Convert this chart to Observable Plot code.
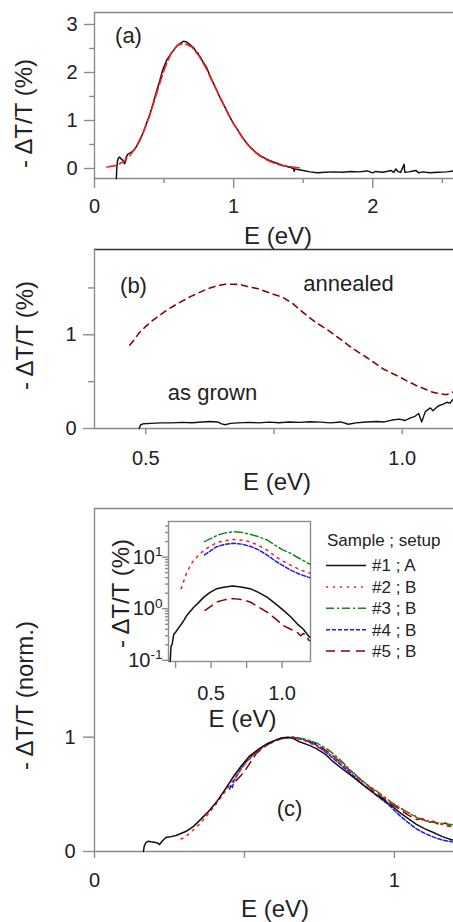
<!DOCTYPE html>
<html><head><meta charset="utf-8">
<script src="https://cdn.jsdelivr.net/npm/d3@7"></script>
<script src="https://cdn.jsdelivr.net/npm/@observablehq/plot@0.6"></script>
<style>
html,body{margin:0;padding:0;background:#fff;}
#root{position:relative;width:453px;height:922px;overflow:hidden;font-family:"Liberation Sans",Arial,sans-serif;}
#root svg{position:absolute;}
</style></head><body><div id="root"></div>
<script>
// ---------- DATA ----------
// Panel (a): measured spectrum [E (eV), -dT/T (%)]
const aMeasured = [[0.157,-0.21],[0.160,0.0],[0.165,0.15],[0.172,0.22],[0.18,0.24],[0.19,0.2],[0.205,0.17],[0.215,0.1],[0.22,0.12],[0.23,0.25],[0.24,0.3],[0.26,0.33],[0.28,0.37],[0.30,0.45],[0.325,0.58],[0.35,0.75],[0.373,0.93],[0.40,1.15],[0.421,1.35],[0.445,1.6],[0.469,1.83],[0.49,2.05],[0.517,2.245],[0.54,2.35],[0.565,2.45],[0.59,2.55],[0.614,2.6],[0.638,2.65],[0.66,2.64],[0.685,2.58],[0.71,2.52],[0.735,2.42],[0.745,2.40],[0.75,2.36],[0.758,2.33],[0.78,2.22],[0.806,2.1],[0.83,1.93],[0.854,1.78],[0.88,1.62],[0.903,1.47],[0.93,1.32],[0.951,1.2],[0.975,1.06],[1.0,0.93],[1.025,0.82],[1.047,0.72],[1.08,0.58],[1.12,0.44],[1.15,0.36],[1.19,0.27],[1.24,0.19],[1.29,0.13],[1.35,0.07],[1.41,0.02],[1.43,0.0],[1.435,-0.06],[1.44,-0.01],[1.48,-0.03],[1.55,-0.07],[1.6,-0.09],[1.66,-0.08],[1.72,-0.07],[1.78,-0.08],[1.84,-0.06],[1.9,-0.07],[1.96,-0.05],[2.0,-0.09],[2.02,-0.06],[2.07,-0.08],[2.1,-0.06],[2.13,-0.04],[2.15,-0.08],[2.166,-0.01],[2.18,-0.06],[2.2,-0.08],[2.225,0.09],[2.23,-0.08],[2.26,-0.07],[2.29,-0.05],[2.31,-0.04],[2.33,-0.09],[2.36,-0.07],[2.41,-0.09],[2.47,-0.08],[2.53,-0.07],[2.58,-0.05]];
// Panel (a): fit (red dashed)
const aFit = [[0.09,0.03],[0.15,0.06],[0.2,0.13],[0.25,0.25],[0.3,0.45],[0.35,0.75],[0.4,1.13],[0.45,1.6],[0.5,2.05],[0.55,2.4],[0.6,2.58],[0.65,2.6],[0.7,2.53],[0.75,2.35],[0.8,2.1],[0.85,1.8],[0.9,1.5],[0.95,1.2],[1.0,0.93],[1.05,0.7],[1.1,0.5],[1.15,0.35],[1.2,0.24],[1.25,0.16],[1.3,0.1],[1.35,0.06],[1.4,0.04],[1.45,0.02],[1.49,0.01]];
// Panel (b)
const bAnnealed = [[0.469,0.89],[0.475,0.93],[0.487,1.02],[0.50,1.09],[0.513,1.15],[0.525,1.2],[0.539,1.255],[0.555,1.31],[0.572,1.362],[0.588,1.41],[0.604,1.45],[0.62,1.49],[0.637,1.52],[0.655,1.54],[0.67,1.54],[0.685,1.535],[0.702,1.51],[0.72,1.49],[0.735,1.46],[0.75,1.43],[0.767,1.40],[0.785,1.34],[0.80,1.27],[0.815,1.2],[0.832,1.13],[0.85,1.07],[0.865,1.01],[0.88,0.95],[0.897,0.88],[0.913,0.82],[0.93,0.76],[0.946,0.70],[0.963,0.635],[0.98,0.59],[0.995,0.55],[1.01,0.505],[1.028,0.457],[1.045,0.42],[1.06,0.386],[1.075,0.37],[1.086,0.36],[1.093,0.375],[1.099,0.39]];
const bAsGrown = [[0.487,0.0],[0.49,0.04],[0.495,0.05],[0.51,0.055],[0.53,0.06],[0.55,0.06],[0.57,0.065],[0.59,0.062],[0.61,0.07],[0.625,0.075],[0.64,0.07],[0.648,0.05],[0.655,0.04],[0.665,0.055],[0.68,0.06],[0.70,0.065],[0.72,0.06],[0.74,0.068],[0.76,0.062],[0.78,0.07],[0.80,0.065],[0.82,0.072],[0.84,0.068],[0.86,0.06],[0.88,0.07],[0.895,0.045],[0.91,0.06],[0.93,0.07],[0.95,0.075],[0.965,0.07],[0.98,0.09],[0.995,0.1],[1.005,0.085],[1.015,0.11],[1.025,0.13],[1.032,0.16],[1.038,0.07],[1.045,0.18],[1.055,0.22],[1.06,0.19],[1.07,0.24],[1.08,0.26],[1.087,0.28],[1.093,0.27],[1.099,0.31]];
// Inset (log scale, %)
const inset1 = [[0.212,0.096],[0.214,0.12],[0.218,0.19],[0.225,0.2],[0.237,0.32],[0.25,0.35],[0.27,0.42],[0.29,0.5],[0.307,0.59],[0.33,0.75],[0.355,0.9],[0.378,1.07],[0.41,1.3],[0.449,1.68],[0.49,2.05],[0.54,2.45],[0.59,2.62],[0.65,2.76],[0.71,2.65],[0.775,2.45],[0.83,2.1],[0.894,1.68],[0.95,1.27],[1.01,0.93],[1.06,0.7],[1.106,0.51],[1.15,0.4],[1.176,0.32],[1.195,0.28]];
const inset2 = [[0.289,2.45],[0.33,5.2],[0.378,8.8],[0.437,12.7],[0.49,16],[0.54,19],[0.6,21],[0.66,22],[0.72,21.2],[0.775,19.9],[0.83,17],[0.894,13.7],[0.95,10.5],[1.0,8.5],[1.06,7],[1.12,5.8],[1.195,4.9]];
const inset3 = [[0.454,19.9],[0.5,23],[0.55,27],[0.6,29.5],[0.66,31],[0.72,30],[0.78,27.5],[0.83,25],[0.894,21.5],[0.95,17],[1.0,14],[1.06,11.8],[1.12,9.5],[1.195,7.3]];
const inset4 = [[0.454,11],[0.5,13.5],[0.54,15.9],[0.6,17.8],[0.66,18.5],[0.72,17.8],[0.78,16],[0.83,14],[0.894,11],[0.95,8.5],[1.0,7],[1.06,5.6],[1.12,4.7],[1.195,4.0]];
const inset5 = [[0.458,0.93],[0.5,1.12],[0.54,1.35],[0.6,1.5],[0.66,1.57],[0.72,1.5],[0.775,1.35],[0.83,1.1],[0.894,0.86],[0.95,0.65],[1.01,0.47],[1.06,0.4],[1.106,0.35],[1.13,0.3],[1.15,0.33],[1.176,0.3],[1.185,0.25],[1.195,0.24]];
// Panel (c): normalized spectra
const norm1 = [[0.163,0.0],[0.166,0.05],[0.172,0.08],[0.18,0.09],[0.188,0.085],[0.2,0.08],[0.21,0.075],[0.217,0.06],[0.225,0.09],[0.239,0.125],[0.255,0.13],[0.272,0.14],[0.29,0.16],[0.306,0.177],[0.33,0.22],[0.35,0.27],[0.38,0.35],[0.406,0.43],[0.435,0.54],[0.461,0.646],[0.49,0.75],[0.517,0.835],[0.545,0.89],[0.572,0.937],[0.6,0.97],[0.628,0.995],[0.645,1.0],[0.665,0.985],[0.683,0.96],[0.71,0.935],[0.74,0.9],[0.77,0.85],[0.794,0.79],[0.82,0.735],[0.85,0.676],[0.88,0.615],[0.906,0.56],[0.935,0.505],[0.961,0.458],[0.99,0.4],[1.017,0.342],[1.045,0.29],[1.072,0.24],[1.1,0.2],[1.128,0.168],[1.16,0.13],[1.193,0.10]];
const norm2 = [[0.289,0.11],[0.3,0.12],[0.33,0.19],[0.35,0.24],[0.38,0.33],[0.41,0.43],[0.44,0.54],[0.47,0.65],[0.5,0.76],[0.54,0.87],[0.58,0.94],[0.62,0.985],[0.66,1.0],[0.7,0.97],[0.74,0.92],[0.78,0.86],[0.82,0.78],[0.86,0.69],[0.9,0.6],[0.94,0.52],[0.98,0.44],[1.02,0.38],[1.06,0.32],[1.1,0.275],[1.14,0.25],[1.193,0.21]];
const norm3 = [[0.461,0.646],[0.5,0.78],[0.54,0.88],[0.58,0.95],[0.62,0.99],[0.66,1.0],[0.7,0.985],[0.74,0.95],[0.78,0.89],[0.82,0.8],[0.85,0.72],[0.88,0.65],[0.906,0.59],[0.935,0.54],[0.961,0.487],[0.99,0.43],[1.017,0.385],[1.045,0.34],[1.072,0.3],[1.1,0.27],[1.128,0.255],[1.16,0.245],[1.193,0.235]];
const norm4 = [[0.45,0.545],[0.455,0.58],[0.46,0.56],[0.465,0.62],[0.5,0.77],[0.54,0.875],[0.58,0.945],[0.62,0.99],[0.66,1.0],[0.7,0.975],[0.74,0.93],[0.78,0.85],[0.82,0.76],[0.86,0.67],[0.9,0.575],[0.94,0.49],[0.98,0.41],[1.017,0.316],[1.045,0.255],[1.072,0.2],[1.1,0.16],[1.128,0.128],[1.16,0.1],[1.193,0.084]];
const norm5 = [[0.472,0.62],[0.49,0.67],[0.505,0.72],[0.54,0.86],[0.58,0.94],[0.62,0.985],[0.66,1.0],[0.7,0.98],[0.74,0.94],[0.78,0.87],[0.82,0.78],[0.86,0.69],[0.9,0.6],[0.94,0.51],[0.98,0.43],[1.017,0.37],[1.045,0.32],[1.072,0.28],[1.095,0.287],[1.11,0.25],[1.13,0.265],[1.15,0.23],[1.17,0.25],[1.193,0.21]];
// Legend / tick labels
const legendTitle = "Sample ; setup";
const sampleLabels = ["#1 ; A", "#2 ; B", "#3 ; B", "#4 ; B", "#5 ; B"];
const aXTicks = [0, 1, 2], aXMinor = [0.5, 1.5, 2.5];
const aYTicks = [0, 1, 2, 3], aYMinor = [0.5, 1.5, 2.5];
const bXTicks = [0.5, 1.0], bXMinor = [0.75];
const bYTicks = [0, 1], bYMinor = [0.5, 1.5];
const cXTicks = [0, 1], cXMinor = [0.5];
const cYTicks = [0, 1];
const iXTicks = [0.5, 1.0], iXMinor = [0.25, 0.75];
const iYTicks = [0.1, 1, 10];
const iYMinor = [0.2,0.3,0.4,0.5,0.6,0.7,0.8,0.9,2,3,4,5,6,7,8,9,20,30,40];

// ---------- STYLE ----------
const FONT = "'Liberation Sans', Arial, sans-serif";
const AX = "#8c8c8c", TXT = "#222";
const seriesStyle = [
  {stroke: "#111", dash: null},
  {stroke: "#ff1a1a", dash: "2,5"},
  {stroke: "#138a13", dash: "8,3,2,3"},
  {stroke: "#1a1aff", dash: "4,2"},
  {stroke: "#8b0000", dash: "9,6"}
];
const toRows = arr => arr.map(([E, v]) => ({E, v}));
const root = document.getElementById("root");
function place(svg, left, top) { svg.style.left = left + "px"; svg.style.top = top + "px"; root.appendChild(svg); }
const baseStyle = {fontFamily: FONT, background: "transparent", color: TXT};
function ax(kind, ticks, o) {
  const f = kind === "x" ? Plot.axisX : Plot.axisY;
  return f(ticks, Object.assign({label: null, stroke: AX, strokeWidth: 1.4, fill: TXT, fontSize: 20}, o));
}
function lineMark(rows, i, sw = 1.5) {
  const s = seriesStyle[i];
  const o = {x: "E", y: "v", stroke: s.stroke, strokeWidth: sw};
  if (s.dash) o.strokeDasharray = s.dash;
  return Plot.line(rows, o);
}
const frameSide = (anchor, stroke = AX) => Plot.frame({anchor, stroke, strokeWidth: 1.4});
const label = (txt, o) => Plot.text([txt], Object.assign({textAnchor: "middle", lineAnchor: "middle", fill: TXT, fontSize: 24}, o));

// ---------- PANEL (a) ----------
const pA = Plot.plot({
  width: 453, height: 252, marginLeft: 94, marginRight: 0, marginTop: 12, marginBottom: 74,
  x: {domain: [0, 2.58]}, y: {domain: [-0.208, 3.25]},
  style: baseStyle,
  marks: [
    frameSide("top"), frameSide("left"), frameSide("bottom"),
    ax("x", aXTicks, {tickSize: 10, tickPadding: 10, tickFormat: d => String(d)}),
    ax("x", aXMinor, {tickSize: 5, tickFormat: () => ""}),
    ax("y", aYTicks, {tickSize: 10, tickPadding: 7, tickFormat: d => String(d)}),
    ax("y", aYMinor, {tickSize: 5, tickFormat: () => ""}),
    Plot.line(toRows(aMeasured), {x: "E", y: "v", stroke: "#111", strokeWidth: 1.5}),
    Plot.line(toRows(aFit), {x: "E", y: "v", stroke: "#ff1a1a", strokeWidth: 1.6, strokeDasharray: "9,4"}),
    label("E (eV)", {frameAnchor: "bottom", dx: 4, dy: 58}),
    label("- ΔT/T (%)", {frameAnchor: "left", rotate: -90, dx: -70, dy: 18}),
    label("(a)", {frameAnchor: "top-left", dx: 34, dy: 23, fontSize: 22})
  ]
});
place(pA, 0, 0);

// ---------- PANEL (b) ----------
const pB = Plot.plot({
  width: 453, height: 255, marginLeft: 94, marginRight: 0, marginTop: 4, marginBottom: 72,
  x: {domain: [0.4, 1.1]}, y: {domain: [0, 1.91]},
  style: baseStyle,
  marks: [
    frameSide("top", "#333"), frameSide("left"), frameSide("bottom"),
    ax("x", bXTicks, {tickSize: 6, tickPadding: 16, tickFormat: d3.format(".1f")}),
    ax("x", bXMinor, {tickSize: 6, tickFormat: () => ""}),
    ax("y", bYTicks, {tickSize: 11, tickPadding: 7, tickFormat: d => String(d)}),
    ax("y", bYMinor, {tickSize: 6, tickFormat: () => ""}),
    Plot.line(toRows(bAsGrown), {x: "E", y: "v", stroke: "#111", strokeWidth: 1.4}),
    Plot.line(toRows(bAnnealed), {x: "E", y: "v", stroke: "#8b0000", strokeWidth: 1.6, strokeDasharray: "6,5"}),
    label("annealed", {frameAnchor: "top-left", dx: 254, dy: 34, fontSize: 22}),
    label("as grown", {frameAnchor: "top-left", dx: 118, dy: 143, fontSize: 22}),
    label("(b)", {frameAnchor: "top-left", dx: 39, dy: 36, fontSize: 22}),
    label("E (eV)", {frameAnchor: "bottom", dx: 3, dy: 54}),
    label("- ΔT/T (%)", {frameAnchor: "left", rotate: -90, dx: -69, dy: -3.5})
  ]
});
place(pB, 0, 245);

// ---------- PANEL (c) ----------
const normSeries = [norm1, norm2, norm3, norm4, norm5];
const pC = Plot.plot({
  width: 453, height: 422, marginLeft: 94, marginRight: 0, marginTop: 8, marginBottom: 71,
  x: {domain: [0, 1.197]}, y: {domain: [0, 3.0]},
  style: baseStyle,
  marks: [
    frameSide("top"), frameSide("left"), frameSide("bottom"),
    ax("x", cXTicks, {tickSize: 7, tickPadding: 14, tickFormat: d => String(d)}),
    ax("x", cXMinor, {tickSize: 7, tickFormat: () => ""}),
    ax("y", cYTicks, {tickSize: 11, tickPadding: 8, tickFormat: d => String(d)}),
    ...[4, 3, 2, 1, 0].map(i => lineMark(toRows(normSeries[i]), i)),
    label("(c)", {frameAnchor: "top-left", dx: 195, dy: 300, fontSize: 22}),
    label("E (eV)", {frameAnchor: "bottom", dx: 1, dy: 58}),
    label("- ΔT/T (norm.)", {frameAnchor: "left", rotate: -90, dx: -69, dy: 15.5})
  ]
});
place(pC, 0, 500);

// ---------- INSET ----------
const insetSeries = [inset1, inset2, inset3, inset4, inset5];
const pI = Plot.plot({
  width: 220, height: 232, marginLeft: 68, marginRight: 10, marginTop: 11, marginBottom: 81,
  x: {domain: [0.2, 1.2]}, y: {type: "log", domain: [0.095, 49]},
  style: baseStyle,
  marks: [
    Plot.frame({stroke: AX, strokeWidth: 1.4}),
    ax("x", iXTicks, {tickSize: 7, tickPadding: 17, tickFormat: d3.format(".1f")}),
    ax("x", iXMinor, {tickSize: 7, tickFormat: () => ""}),
    ax("y", iYTicks, {tickSize: 6, tickPadding: 0, tickFormat: d => "10^" + Math.round(Math.log10(d))}),
    ax("y", iYMinor, {tickSize: 3, tickFormat: () => ""}),
    ...[4, 3, 2, 1, 0].map(i => lineMark(toRows(insetSeries[i]), i)),
    label("E (eV)", {frameAnchor: "bottom", dx: 3, dy: 58}),
    label("- ΔT/T (%)", {frameAnchor: "left", rotate: -90, dx: -47, dy: 2})
  ]
});
d3.select(pI).selectAll("text").each(function () {
  const m = /^10\^(-?\d+)$/.exec(this.textContent);
  if (m) {
    const s = d3.select(this);
    s.text(null);
    s.append("tspan").text("10");
    s.append("tspan").attr("dy", "-0.55em").attr("font-size", "0.68em").text(m[1]);
  }
});
place(pI, 100, 510);

// ---------- LEGEND ----------
const leg = d3.create("svg").attr("width", 131).attr("height", 140)
  .style("font-family", FONT).style("overflow", "visible");
const rowY = d3.scalePoint().domain(sampleLabels).range([40.5, 126]);
leg.append("text").attr("x", 5).attr("y", 15).attr("dy", "0.35em")
  .attr("font-size", 17).attr("fill", TXT).text(legendTitle);
sampleLabels.forEach((lab, i) => {
  const s = seriesStyle[i];
  const ln = leg.append("line").attr("x1", 4).attr("x2", 44).attr("y1", rowY(lab)).attr("y2", rowY(lab))
    .attr("stroke", s.stroke).attr("stroke-width", 1.5);
  if (s.dash) ln.attr("stroke-dasharray", s.dash);
  leg.append("text").attr("x", 50).attr("y", rowY(lab)).attr("dy", "0.35em")
    .attr("font-size", 17).attr("fill", TXT).text(lab);
});
place(leg.node(), 322, 525);
</script></body></html>
